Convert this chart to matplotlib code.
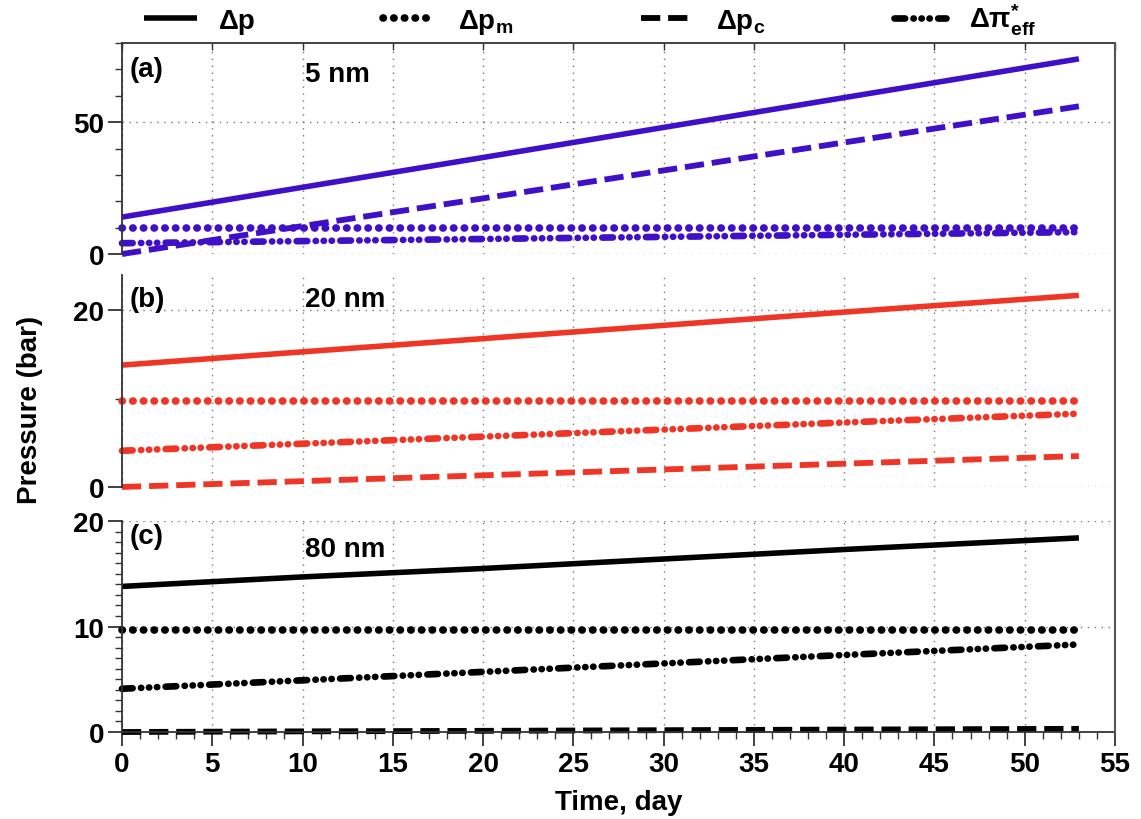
import numpy as np
import matplotlib.pyplot as plt
from matplotlib.lines import Line2D
from matplotlib.ticker import MultipleLocator

plt.rcParams['font.family'] = ['Liberation Sans', 'DejaVu Sans']
plt.rcParams['font.weight'] = 'bold'
plt.rcParams['mathtext.fontset'] = 'custom'
plt.rcParams['mathtext.rm'] = 'Liberation Sans:bold'
plt.rcParams['mathtext.bf'] = 'Liberation Sans:bold'
plt.rcParams['mathtext.it'] = 'Liberation Sans:bold'

# time points (day)
days = [0, 10, 20, 30, 40, 53]

# (a) 5 nm
dp_5 = [14.0, 25.3, 36.6, 48.0, 59.3, 74.0]
dpm_5 = [9.7, 9.7, 9.7, 9.7, 9.7, 9.7]
dpc_5 = [0.0, 10.6, 21.1, 31.7, 42.3, 56.0]
dpi_5 = [4.1, 4.9, 5.7, 6.5, 7.3, 8.3]

# (b) 20 nm
dp_20 = [13.8, 15.3, 16.8, 18.3, 19.8, 21.7]
dpm_20 = [9.7, 9.7, 9.7, 9.7, 9.7, 9.7]
dpc_20 = [0.0, 0.66, 1.32, 1.98, 2.64, 3.5]
dpi_20 = [4.1, 4.9, 5.7, 6.5, 7.3, 8.3]

# (c) 80 nm
dp_80 = [13.8, 14.7, 15.5, 16.4, 17.3, 18.4]
dpm_80 = [9.7, 9.7, 9.7, 9.7, 9.7, 9.7]
dpc_80 = [0.0, 0.06, 0.11, 0.17, 0.23, 0.3]
dpi_80 = [4.1, 4.9, 5.7, 6.5, 7.3, 8.3]

labels = [r'Δp', r'Δp$_\mathrm{m}$', r'Δp$_\mathrm{c}$', r'Δπ$^{*}_\mathrm{eff}$']
panel_tags = ['(a)', '(b)', '(c)']
panel_sizes = ['5 nm', '20 nm', '80 nm']
colors = ['#4010c8', '#ee3526', 'black']

FS = 20
styles = [
    dict(lw=4.0, linestyle='-', solid_capstyle='butt'),
    dict(lw=5.5, linestyle=(0, (0.05, 1.35)), dash_capstyle='round'),
    dict(lw=4.2, linestyle=(0, (3.3, 1.35)), dash_capstyle='butt'),
    dict(lw=4.8, linestyle=(0, (1.6, 1.25, 0.05, 1.15, 0.05, 1.15, 0.05, 1.25)),
         dash_capstyle='round'),
]

fig = plt.figure(figsize=(11.41, 8.2), dpi=100)

left, width = 0.1069, 0.8703
ax_a = fig.add_axes([left, 0.6890, width, 0.2573])
ax_b = fig.add_axes([left, 0.4049, width, 0.2585])
ax_c = fig.add_axes([left, 0.1061, width, 0.2573])
axes = [ax_a, ax_b, ax_c]

data = [
    [dp_5, dpm_5, dpc_5, dpi_5],
    [dp_20, dpm_20, dpc_20, dpi_20],
    [dp_80, dpm_80, dpc_80, dpi_80],
]
ylims = [(0, 80), (0, 24), (0, 20)]
majors = [50, 20, 10]
minors = [10, 10, 1]
tag_y = [0.877, 0.887, 0.929]
size_y = [0.853, 0.887, 0.867]

spine_col = '#333333'
grid_kw = dict(color='#777777', linestyle=(0, (1, 4)), linewidth=1.0)

for i, ax in enumerate(axes):
    for j, series in enumerate(data[i]):
        ax.plot(days, series, color=colors[i], clip_on=False, **styles[j])
    ax.set_xlim(0, 55)
    ax.set_ylim(*ylims[i])
    ax.yaxis.set_major_locator(MultipleLocator(majors[i]))
    ax.yaxis.set_minor_locator(MultipleLocator(minors[i]))
    ax.xaxis.set_major_locator(MultipleLocator(5))
    ax.xaxis.set_minor_locator(MultipleLocator(1))
    ax.grid(True, which='major', **grid_kw)
    ax.set_axisbelow(True)
    for s in ['top', 'bottom', 'right']:
        ax.spines[s].set_visible(False)
    ax.spines['left'].set_color(spine_col)
    ax.spines['left'].set_linewidth(1.3)
    ax.tick_params(axis='y', which='major', direction='out', length=10, width=1.3,
                   color=spine_col, labelsize=FS, pad=3)
    ax.tick_params(axis='y', which='minor', direction='out', length=5, width=1.0,
                   color=spine_col)
    ax.tick_params(axis='x', which='both', bottom=False, labelbottom=False)
    for t in ax.get_yticklabels():
        t.set_fontweight('bold')
    ax.text(0.008, tag_y[i], panel_tags[i], transform=ax.transAxes, fontsize=FS,
            fontweight='bold', ha='left', va='center')
    ax.text(0.184, size_y[i], panel_sizes[i], transform=ax.transAxes, fontsize=FS,
            fontweight='bold', ha='left', va='center')

# top panel frame with small inward ticks
ax_a.spines['top'].set_visible(True)
ax_a.spines['top'].set_color(spine_col)
ax_a.spines['top'].set_linewidth(1.3)
ax_a.tick_params(axis='x', which='major', top=True, direction='in', length=5,
                 width=1.0, color=spine_col)

# bottom axis
ax_c.spines['bottom'].set_visible(True)
ax_c.spines['bottom'].set_color(spine_col)
ax_c.spines['bottom'].set_linewidth(1.3)
ax_c.tick_params(axis='x', which='major', bottom=True, labelbottom=True, direction='out',
                 length=10, width=1.3, color=spine_col, labelsize=FS, pad=4)
ax_c.tick_params(axis='x', which='minor', bottom=True, direction='out', length=5,
                 width=1.0, color=spine_col)
for t in ax_c.get_xticklabels():
    t.set_fontweight('bold')
ax_c.set_xlabel('Time, day', fontsize=FS, fontweight='bold', labelpad=8)

# shared right border
fig.add_artist(Line2D([left + width, left + width], [0.1061, 0.9463],
                      transform=fig.transFigure, color='#555555', lw=1.5))

fig.text(0.026, 0.5, 'Pressure (bar)', rotation=90, fontsize=FS, fontweight='bold',
         ha='center', va='center')

handles = [Line2D([], [], color='black', **st) for st in styles]
fig.legend(handles, labels, loc='center', bbox_to_anchor=(0.517, 0.975), ncol=4,
           frameon=False, handlelength=1.9, handletextpad=0.8,
           columnspacing=4.6, prop={'weight': 'bold', 'size': FS})

fig.savefig('out.png', dpi=100)
